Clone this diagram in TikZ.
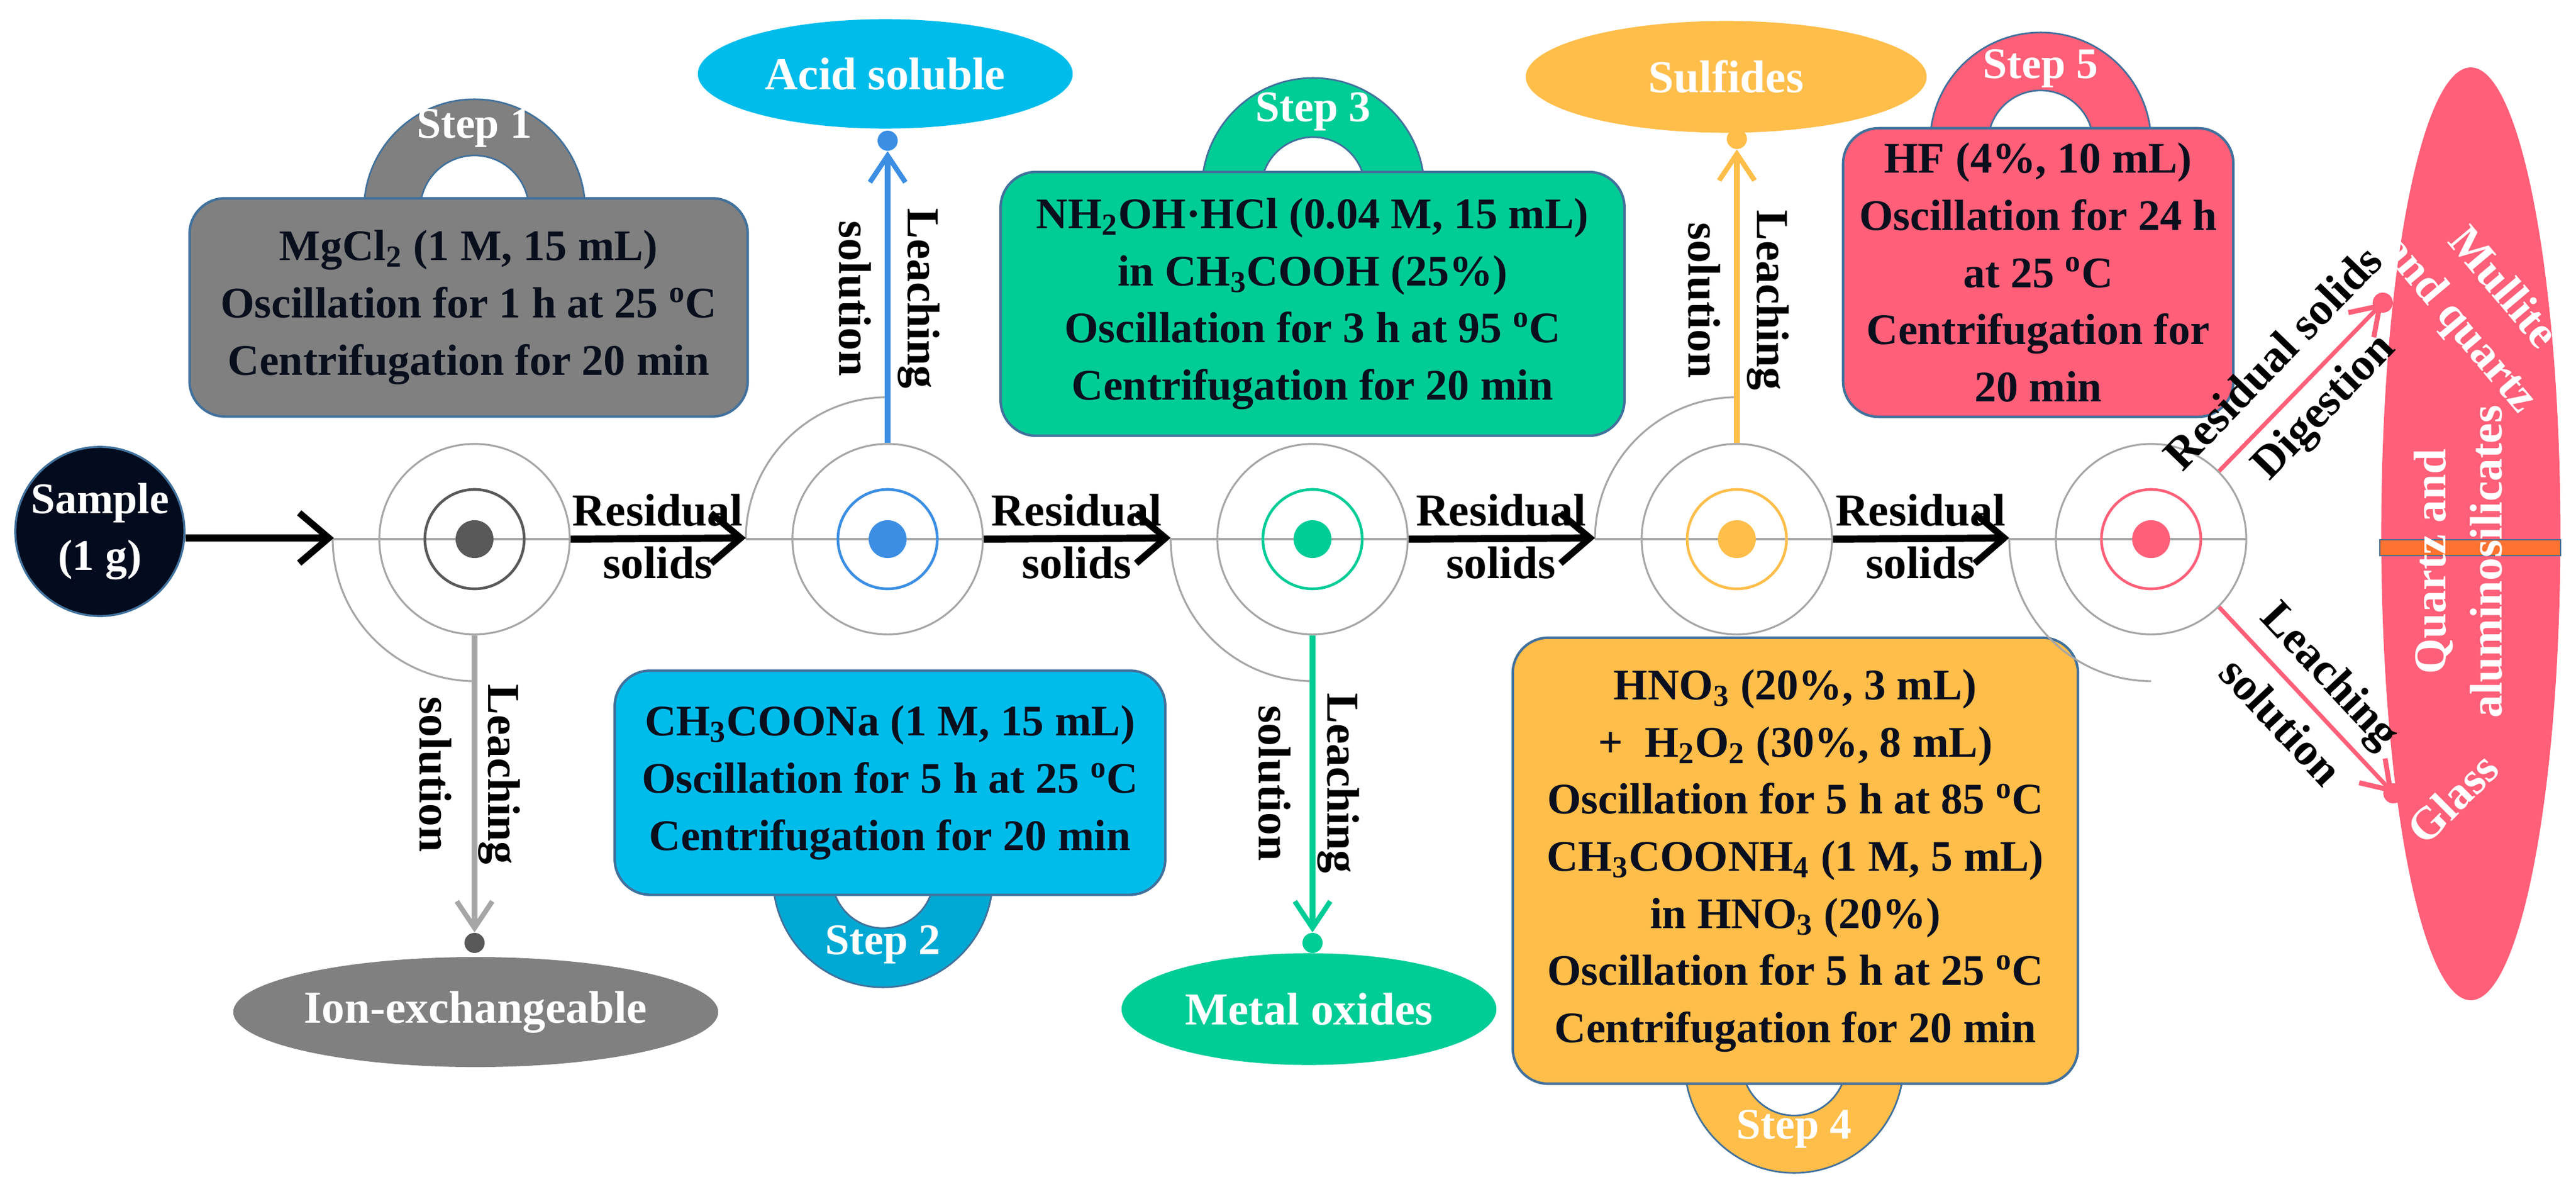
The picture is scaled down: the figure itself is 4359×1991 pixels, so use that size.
\documentclass[tikz,border=0pt]{standalone}
\usepackage{fontspec}
\setmainfont{Liberation Serif}
\usetikzlibrary{arrows.meta,shapes.geometric}
\definecolor{cgray}{HTML}{808080}
\definecolor{cdgray}{HTML}{595959}
\definecolor{lgray}{HTML}{A6A6A6}
\definecolor{cblue}{HTML}{00BCEB}
\definecolor{cbluel}{HTML}{3B8EE3}
\definecolor{cgreen}{HTML}{00CC96}
\definecolor{corange}{HTML}{FFBD4A}
\definecolor{cpink}{HTML}{FF5F78}
\definecolor{cnavy}{HTML}{020C1E}
\definecolor{bord}{HTML}{41719C}
\definecolor{txt}{HTML}{0A0F1E}
\newcommand{\sbs}[1]{\textsubscript{#1}}
\newcommand{\dgc}{\textsuperscript{o}C}
\newcommand{\fsz}{\fontsize{21pt}{27.5pt}\selectfont\bfseries}
\newcommand{\fsl}{\fontsize{22pt}{27pt}\selectfont\bfseries}
\begin{document}
\begin{tikzpicture}[x=0.01cm,y=-0.01cm,
  box/.style={rounded corners=0.6cm,draw=bord,line width=1.2pt,align=center,text=txt,font=\fsz,inner sep=0pt},
  arch/.style={fill=#1,draw=bord,line width=0.8pt,even odd rule},
  steplab/.style={text=white,font=\fsz},
  ell/.style={ellipse,fill=#1,text=white,font=\fsl,inner sep=0pt},
  ringo/.style={circle,draw=lgray,line width=0.9pt,minimum size=3.22cm,inner sep=0pt},
  gline/.style={draw=lgray,line width=0.9pt},
  inner/.style={draw=#1,line width=1.3pt},
  dot/.style={circle,fill=#1,minimum size=0.34cm,inner sep=0pt},
  blk/.style={line width=3.4pt,-{Straight Barb[length=0.5cm,width=0.85cm,line width=3.2pt]}},
  carr/.style={draw=#1,line width=2.8pt,-{Straight Barb[length=0.45cm,width=0.6cm,line width=2.4pt]}},
  lab/.style={font=\fsl,align=center,text=black},
]
\useasboundingbox (0,0) rectangle (4359,1991);

% ---------- arches ----------
\fill[arch=cgray]   (803,355)  circle[radius=1.87cm] (803,355) circle[radius=0.92cm];
\fill[arch=cblue!90!black]  (1494,1484) circle[radius=1.86cm] (1494,1484) circle[radius=0.86cm];
\fill[arch=cgreen]  (2222,320) circle[radius=1.88cm] (2222,320) circle[radius=0.88cm];
\fill[arch=corange] (3036,1799) circle[radius=1.85cm] (3036,1799) circle[radius=0.88cm];
\fill[arch=cpink]   (3453,242) circle[radius=1.87cm] (3453,242) circle[radius=0.89cm];

% ---------- boxes ----------
\node[box,fill=cgray,minimum width=9.44cm,minimum height=3.69cm] (b1) at (793,520)
  {MgCl\sbs{2} (1 M, 15 mL)\\Oscillation for 1 h at 25 \dgc\\Centrifugation for 20 min};
\node[box,fill=cblue,minimum width=9.31cm,minimum height=3.79cm] (b2) at (1506,1324)
  {CH\sbs{3}COONa (1 M, 15 mL)\\Oscillation for 5 h at 25 \dgc\\Centrifugation for 20 min};
\node[box,fill=cgreen,minimum width=10.55cm,minimum height=4.46cm] (b3) at (2221,514)
  {NH\sbs{2}OH\textperiodcentered HCl (0.04 M, 15 mL)\\in CH\sbs{3}COOH (25\%)\\Oscillation for 3 h at 95 \dgc\\Centrifugation for 20 min};
\node[box,fill=corange,minimum width=9.56cm,minimum height=7.54cm] (b4) at (3038,1456)
  {HNO\sbs{3} (20\%, 3 mL)\\+\ \ H\sbs{2}O\sbs{2} (30\%, 8 mL)\\Oscillation for 5 h at 85 \dgc\\CH\sbs{3}COONH\sbs{4} (1 M, 5 mL)\\in HNO\sbs{3} (20\%)\\Oscillation for 5 h at 25 \dgc\\Centrifugation for 20 min};
\node[box,fill=cpink,minimum width=6.6cm,minimum height=4.88cm] (b5) at (3449,461)
  {HF (4\%, 10 mL)\\Oscillation for 24 h\\at 25 \dgc\\Centrifugation for\\20 min};

\node[steplab] (s1) at (803,217) {Step 1};
\node[steplab] (s2) at (1494,1598) {Step 2};
\node[steplab] (s3) at (2222,189) {Step 3};
\node[steplab] (s4) at (3036,1910) {Step 4};
\node[steplab] (s5) at (3453,116) {Step 5};

% ---------- rings ----------
\foreach \n/\x/\c/\q in {1/803/cdgray/1,2/1502/cbluel/-1,3/2221/cgreen/1,4/2939/corange/-1,5/3640/cpink/1}{
  \draw[gline] (\x-240,912) -- (\x+161,912);
  \draw[gline] (\x-240,912) arc[start angle=180,delta angle=\q*90,radius=2.4cm];
  \node[ringo] (r\n) at (\x,912) {};
  \draw[inner=\c] (\x,912) circle[radius=0.84cm];
  \fill[\c] (\x,912) circle[radius=0.32cm];
}

% ---------- sample ----------
\node[circle,fill=cnavy,draw=bord,line width=1pt,minimum size=2.86cm,inner sep=0pt,
  text=white,font=\fsz,align=center] (smp) at (169,899) {Sample\\(1 g)};
\coordinate (a1) at (565,910);
\coordinate (a2) at (1262,910);
\coordinate (a3) at (1981,910);
\coordinate (a4) at (2699,910);
\coordinate (a5) at (3400,910);
\draw[blk] (smp.east|-a1) -- (a1);
\draw[blk] (r1.east) -- (a2);
\draw[blk] (r2.east) -- (a3);
\draw[blk] (r3.east) -- (a4);
\draw[blk] (r4.east) -- (a5);
\foreach \m in {1113,1822,2540,3250}{
  \node[lab] at (\m,863) {Residual};
  \node[lab] at (\m,952) {solids};
}

% ---------- product ellipses ----------
\node[ell=cblue,minimum width=6.34cm,minimum height=1.85cm] (e2) at (1498,125) {Acid soluble};
\node[ell=corange,minimum width=6.78cm,minimum height=1.89cm] (e4) at (2921,130) {Sulfides};
\node[ell=cgray,minimum width=6.84cm,minimum height=1.86cm] (e1) at (805,1712) {Ion-exchangeable};
\node[ell=cgreen,minimum width=6.34cm,minimum height=1.89cm] (e3) at (2215,1707) {Metal oxides};
\node[ell=cpink,minimum width=3.03cm,minimum height=15.77cm] (e5) at (4181,903) {};
\fill[fill=orange!60!cpink,draw=bord,line width=0.5pt] (4027,913) rectangle (4333,940);
\node[text=white,font=\fsl,align=center,rotate=-50] (t5a) at (4196,520) {Mullite\\and quartz};
\node[text=white,font=\fsl,align=center,rotate=90] (t5b) at (4160,950) {Quartz and\\aluminosilicates};
\node[text=white,font=\fsl,rotate=45] (t5c) at (4150,1350) {Glass};

% ---------- dots ----------
\node[dot=cbluel] (d2) at (1502,238) {};
\node[dot=corange] (d4) at (2939,235) {};
\node[dot=cdgray] (d1) at (803,1595) {};
\node[dot=cgreen] (d3) at (2221,1595) {};
\node[dot=cpink] (d5a) at (4032,512) {};
\node[dot=cpink] (d5b) at (4050,1342) {};

% ---------- leaching arrows ----------
\draw[carr=lgray] (r1.south) -- (d1.north);
\draw[carr=cbluel] (r2.north) -- (d2.south);
\draw[carr=cgreen] (r3.south) -- (d3.north);
\draw[carr=corange] (r4.north) -- (d4.south);
\draw[carr=cpink,line width=2pt] (r5.45) -- (d5a.center);
\draw[carr=cpink,line width=2pt] (r5.-45) -- (d5b.center);

\node[lab,rotate=-90] at (795,1310) {Leaching\\[6pt]solution};
\node[lab,rotate=-90] at (1505,505) {Leaching\\[6pt]solution};
\node[lab,rotate=-90] at (2215,1325) {Leaching\\[6pt]solution};
\node[lab,rotate=-90] at (2942,508) {Leaching\\[6pt]solution};
\node[lab,rotate=46] at (3893,650) {Residual solids\\[6pt]Digestion};
\node[lab,rotate=-47] at (3903,1180) {Leaching\\[6pt]solution};
\end{tikzpicture}
\end{document}
